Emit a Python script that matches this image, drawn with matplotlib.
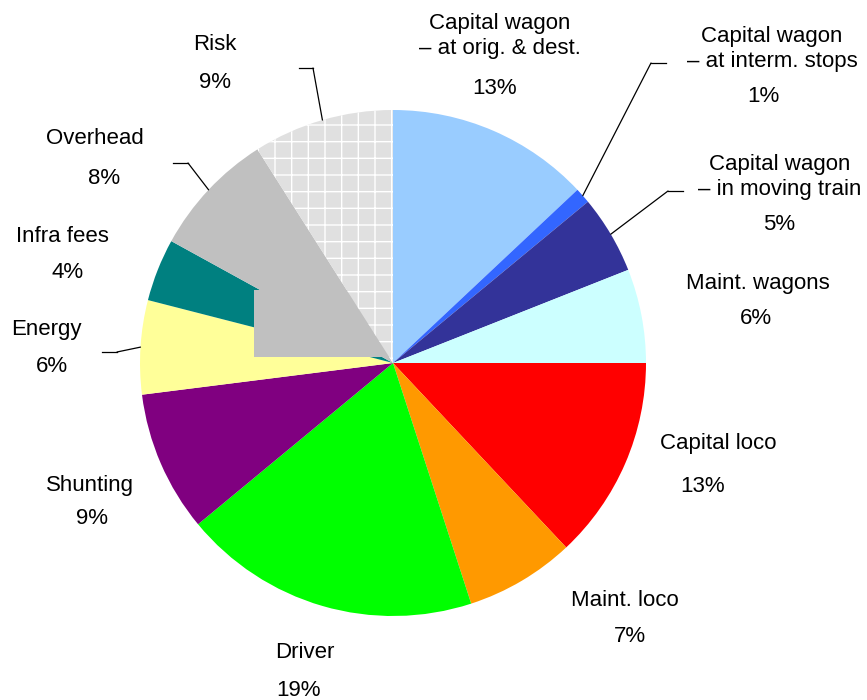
import matplotlib.pyplot as plt
from matplotlib.patches import Rectangle
import numpy as np

plt.rcParams['font.family'] = ['Liberation Sans', 'DejaVu Sans']

# cost shares, clockwise from 12 o'clock
labels = ['Capital wagon\n\u2013 at orig. & dest.', 'Capital wagon\n\u2013 at interm. stops',
          'Capital wagon\n\u2013 in moving train', 'Maint. wagons', 'Capital loco',
          'Maint. loco', 'Driver', 'Shunting', 'Energy', 'Infra fees', 'Overhead', 'Risk']
shares = [13, 1, 5, 6, 13, 7, 19, 9, 6, 4, 8, 9]
colors = ['#99CCFF', '#3366FF', '#333399', '#CCFFFF', '#FF0000', '#FF9900',
          '#00FF00', '#800080', '#FFFF99', '#008080', '#C0C0C0', '#E0E0E0']

# label centres in figure pixels: (name x, name y, pct x, pct y)
label_pos = [(500, 36, 495, 88), (772, 49, 763, 97), (780, 177, 779, 225),
             (758, 283, 756, 318), (718, 444, 703, 486), (625, 600, 630, 636),
             (305, 652, 298, 690), (90, 485, 92, 519), (46, 329, 52, 367),
             (62, 236, 68, 272), (95, 139, 104, 178), (215, 44, 215, 83)]
# leader lines: slice index -> (horizontal stub x0, x1, y, elbow x)
leaders = {1: (651, 666, 63, 651), 2: (668, 683, 191, 668), 8: (102, 117, 352, 117),
           10: (173, 188, 163, 188), 11: (299, 313, 68, 313)}

W, H = 867, 700
fig = plt.figure(figsize=(W / 100, H / 100), dpi=100)
ax = fig.add_axes([0, 0, 1, 1])

cx, cy, r = 393, 363, 253
wedges, _ = ax.pie(shares, colors=colors, startangle=90, counterclock=False,
                   radius=1, center=(0, 0), wedgeprops=dict(linewidth=0))
ax.set_xlim(-cx / r, (W - cx) / r)
ax.set_ylim(-(H - cy) / r, cy / r)
ax.set_aspect('equal')
ax.axis('off')

# risk slice: light grey with a white grid pattern
risk = wedges[-1]
risk.set_hatch('+')
risk.set_edgecolor('white')
risk.set_linewidth(0)
risk.set_zorder(3)
plt.rcParams['hatch.linewidth'] = 0.6

# the overhead fill spills into a box below its slice
ax.add_patch(Rectangle((-139 / r, 6 / r), 139 / r, 67 / r, facecolor='#C0C0C0',
                       edgecolor='none', zorder=2))

def fig_xy(x, y):
    return x / W, 1 - y / H

for i, (name, pct) in enumerate(zip(labels, shares)):
    nx, ny, px, py = label_pos[i]
    fig.text(*fig_xy(nx, ny), name, ha='center', va='center', fontsize=16,
             linespacing=1.2)
    fig.text(*fig_xy(px, py), f'{pct}%', ha='center', va='center', fontsize=16)

for i, (x0, x1, y, ex) in leaders.items():
    w = wedges[i]
    mid = np.deg2rad((w.theta1 + w.theta2) / 2)
    tip = (np.cos(mid), np.sin(mid))
    ax.annotate('', xy=tip, xycoords='data', xytext=fig_xy(ex, y),
                textcoords='figure fraction',
                arrowprops=dict(arrowstyle='-', lw=0.9, color='black',
                                shrinkA=0, shrinkB=0))
    fig.add_artist(plt.Line2D([x0 / W, x1 / W], [1 - y / H, 1 - y / H],
                              lw=0.9, color='black'))

fig.savefig('out.png', dpi=100)
